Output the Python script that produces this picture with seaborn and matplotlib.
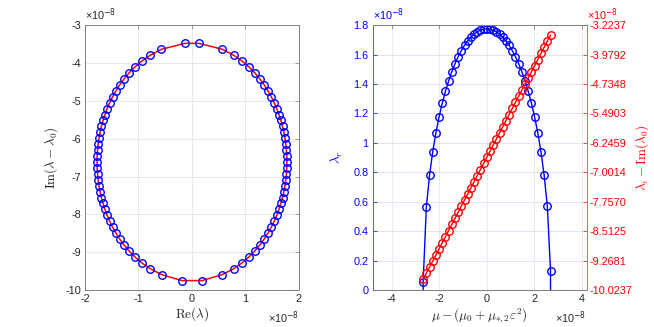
import seaborn as sns
from matplotlib import pyplot as plt

sns.set_style("white")
plt.rcParams['font.family'] = ['Liberation Sans', 'DejaVu Sans']
plt.rcParams['mathtext.fontset'] = 'cm'
plt.rcParams['axes.unicode_minus'] = False

# Values, all in units of 1e-8
mu_vals = [-2.680, -2.546, -2.412, -2.278, -2.144, -2.010, -1.876, -1.742,
           -1.608, -1.474, -1.340, -1.206, -1.072, -0.938, -0.804, -0.670,
           -0.536, -0.402, -0.268, -0.134, 0.000, 0.134, 0.268, 0.402,
           0.536, 0.670, 0.804, 0.938, 1.072, 1.206, 1.340, 1.474, 1.608,
           1.742, 1.876, 2.010, 2.144, 2.278, 2.412, 2.546, 2.680]
lam_r = [0.056, 0.564, 0.780, 0.939, 1.068, 1.177, 1.270, 1.351, 1.421,
         1.484, 1.538, 1.586, 1.627, 1.663, 1.694, 1.719, 1.739, 1.755,
         1.766, 1.773, 1.775, 1.773, 1.766, 1.755, 1.739, 1.719, 1.694,
         1.663, 1.627, 1.586, 1.538, 1.484, 1.421, 1.351, 1.270, 1.177,
         1.068, 0.939, 0.780, 0.570, 0.130]
lam_i = [-9.750, -9.593, -9.437, -9.280, -9.123, -8.966, -8.810, -8.653,
         -8.496, -8.339, -8.183, -8.026, -7.869, -7.712, -7.556, -7.399,
         -7.242, -7.085, -6.929, -6.772, -6.615, -6.458, -6.302, -6.145,
         -5.988, -5.831, -5.675, -5.518, -5.361, -5.204, -5.048, -4.891,
         -4.734, -4.577, -4.421, -4.264, -4.107, -3.950, -3.794, -3.637,
         -3.480]
# the left panel shows a slightly wider gap at the bottom of the ellipse
lam_r_left = [0.190] + lam_r[1:]

left_xticks = [-2, -1, 0, 1, 2]
left_yticks = [-10, -9, -8, -7, -6, -5, -4, -3]
right_xticks = [-4, -2, 0, 2, 4]
right_yticks_l = ['0', '0.2', '0.4', '0.6', '0.8', '1', '1.2', '1.4', '1.6',
                  '1.8']
right_yticks_r = ['-10.0237', '-9.2681', '-8.5125', '-7.7570', '-7.0014',
                  '-6.2459', '-5.4903', '-4.7348', '-3.9792', '-3.2237']

GRAY = '#262626'
FRAME = '#808080'
TICK_FS = 7.8
LABEL_FS = 9.5

fig = plt.figure(figsize=(6.54, 3.27), dpi=100)
ax_l = fig.add_axes([0.130, 0.113, 0.327, 0.810])
ax_r = fig.add_axes([0.570, 0.113, 0.327, 0.810])


def open_markers(ax, x, y, color):
    sns.lineplot(x=x, y=y, ax=ax, sort=False, estimator=None,
                 linestyle='none', marker='o', markersize=5.4,
                 markerfacecolor='none', markeredgecolor=color,
                 markeredgewidth=1.0, zorder=3)


def offset_label(ax, x, y, color, ha):
    ax.text(x, y, '×10$^{-8}$', transform=ax.transAxes, ha=ha, va='bottom',
            fontsize=TICK_FS, color=color, math_fontfamily='dejavusans')


# ---- Left panel: ellipse in the complex plane
ell_x = lam_r_left + [-v for v in reversed(lam_r_left)] + [lam_r_left[0]]
ell_y = lam_i + list(reversed(lam_i)) + [lam_i[0]]
sns.lineplot(x=ell_x, y=ell_y, ax=ax_l, sort=False, estimator=None,
             color='red', linewidth=1.1, zorder=2)
open_markers(ax_l, lam_r_left, lam_i, 'blue')
open_markers(ax_l, [-v for v in lam_r_left], lam_i, 'blue')

ax_l.set_xlim(-2, 2)
ax_l.set_ylim(-10, -3)
ax_l.set_xticks(left_xticks)
ax_l.set_yticks(left_yticks)
ax_l.set_xticklabels([str(t) for t in left_xticks])
ax_l.set_yticklabels([str(t) for t in left_yticks])
ax_l.grid(True, color='#e4e4e4', linewidth=0.6)
ax_l.tick_params(direction='in', length=3, width=0.5, colors=FRAME,
                 labelcolor=GRAY, labelsize=TICK_FS, top=True, right=True,
                 pad=3)
for sp in ax_l.spines.values():
    sp.set_color(FRAME)
    sp.set_linewidth(0.7)
ax_l.set_xlabel(r'$\mathrm{Re}(\lambda)$', fontsize=LABEL_FS, color=GRAY,
                labelpad=1)
ax_l.set_ylabel(r'$\mathrm{Im}(\lambda-\lambda_0)$', fontsize=LABEL_FS,
                color=GRAY, labelpad=4)
offset_label(ax_l, 0.0, 1.01, GRAY, 'left')
offset_label(ax_l, 1.0, -0.135, GRAY, 'right')

# ---- Right panel: real part (left axis) and imaginary part (right axis)
line_mu = [mu_vals[0]] + mu_vals + [mu_vals[-1]]
line_r = [0.0] + lam_r + [0.0]
sns.lineplot(x=line_mu, y=line_r, ax=ax_r, sort=False, estimator=None,
             color='blue', linewidth=1.0, zorder=2)
open_markers(ax_r, mu_vals, lam_r, 'blue')

ax2 = ax_r.twinx()
sns.lineplot(x=mu_vals, y=lam_i, ax=ax2, sort=False, estimator=None,
             color='red', linewidth=1.0, zorder=2)
open_markers(ax2, mu_vals, lam_i, 'red')

ax_r.set_xlim(-4.8, 4.2)
ax_r.set_ylim(0, 1.8)
ax_r.set_xticks(right_xticks)
ax_r.set_xticklabels([str(t) for t in right_xticks])
ax_r.set_yticks([float(t) for t in right_yticks_l])
ax_r.set_yticklabels(right_yticks_l)
ax2.set_ylim(float(right_yticks_r[0]), float(right_yticks_r[-1]))
ax2.set_yticks([float(t) for t in right_yticks_r])
ax2.set_yticklabels(right_yticks_r)

ax_r.xaxis.grid(True, color='#e6e6e6', linewidth=0.6)
ax_r.yaxis.grid(True, color='#dedef7', linewidth=0.6)
ax_r.tick_params(axis='x', direction='in', length=3, width=0.5, colors=FRAME,
                 labelcolor=GRAY, labelsize=TICK_FS, top=True, pad=3)
ax_r.tick_params(axis='y', direction='in', length=3, width=0.5,
                 colors='blue', labelsize=TICK_FS, pad=3)
ax2.tick_params(axis='y', direction='in', length=3, width=0.5,
                colors='red', labelsize=TICK_FS, pad=2)
for ax in (ax_r, ax2):
    ax.spines['top'].set_color(FRAME)
    ax.spines['bottom'].set_color(FRAME)
    ax.spines['left'].set_color('#5c5cff')
    ax.spines['right'].set_color('#ff5c5c')
    for sp in ax.spines.values():
        sp.set_linewidth(0.7)

ax_r.set_xlabel(r'$\mu-(\mu_0+\mu_{*,2}\varepsilon^2)$', fontsize=LABEL_FS,
                color=GRAY, labelpad=1)
ax_r.set_ylabel(r'$\lambda_r$', fontsize=LABEL_FS, color='blue', labelpad=6)
ax2.set_ylabel(r'$\lambda_i-\mathrm{Im}(\lambda_0)$', fontsize=LABEL_FS,
               color='red', labelpad=1)
offset_label(ax_r, 0.0, 1.01, 'blue', 'left')
offset_label(ax2, 1.0, 1.01, 'red', 'left')
offset_label(ax_r, 1.0, -0.135, GRAY, 'right')

fig.savefig('out.png', dpi=100)
